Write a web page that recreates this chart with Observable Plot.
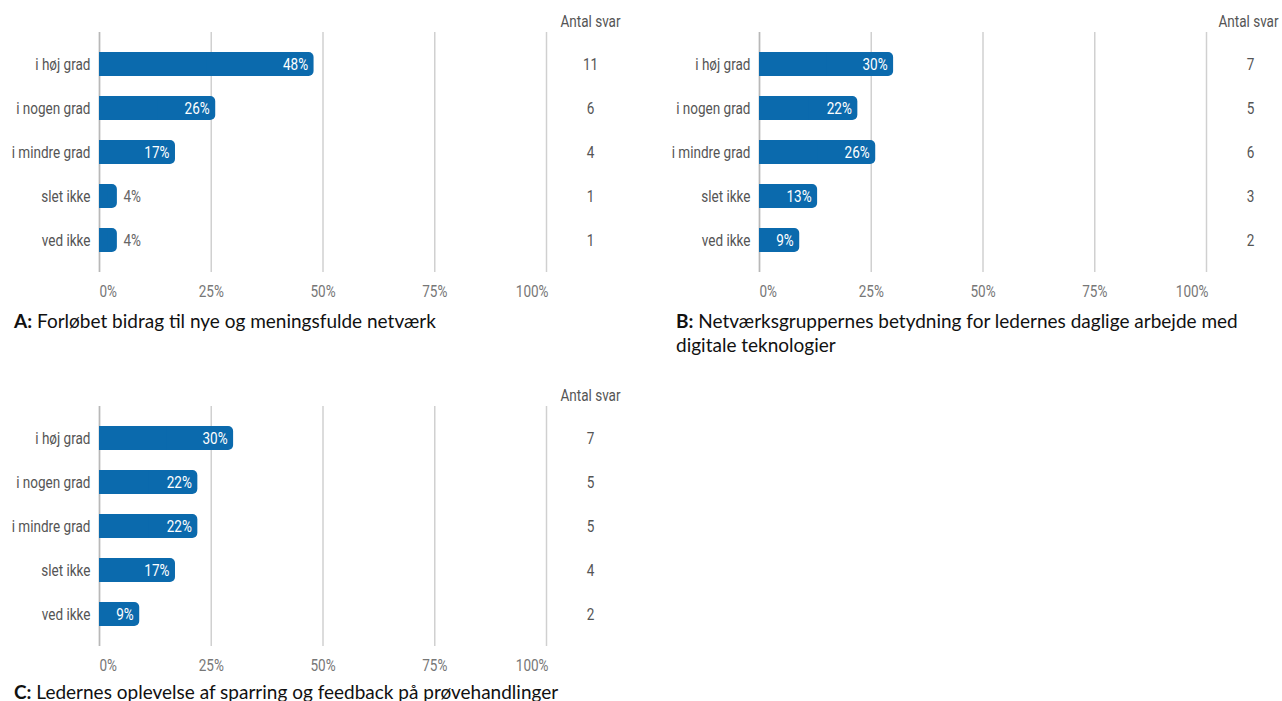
<!DOCTYPE html>
<html>
<head>
<meta charset="utf-8">
<script src="https://cdn.jsdelivr.net/npm/d3@7"></script>
<script src="https://cdn.jsdelivr.net/npm/@observablehq/plot@0.6"></script>
<style>
  html, body { margin: 0; padding: 0; background: #fff; }
  body { width: 1282px; height: 701px; position: relative; overflow: hidden; }
  .panel { position: absolute; }
  .cap { position: absolute; font-family: Lato, "Liberation Sans", sans-serif; font-size: 19px; color: #111; line-height: 24px; }
</style>
</head>
<body>
<div class="panel" id="pA" style="left:0;top:0"></div>
<div class="panel" id="pB" style="left:660px;top:0"></div>
<div class="panel" id="pC" style="left:0;top:374px"></div>
<div class="cap" style="left:14px;top:309px"><b>A:</b> Forløbet bidrag til nye og meningsfulde netværk</div>
<div class="cap" style="left:676px;top:309px;width:604px"><b>B:</b> Netværksgruppernes betydning for ledernes daglige arbejde med<br>digitale teknologier</div>
<div class="cap" style="left:14px;top:680px"><b>C:</b> Ledernes oplevelse af sparring og feedback på prøvehandlinger</div>
<script>
const categories = ["i høj grad", "i nogen grad", "i mindre grad", "slet ikke", "ved ikke"];
const shareA = [0.48, 0.26, 0.17, 0.04, 0.04];
const countA = [11, 6, 4, 1, 1];
const shareB = [0.30, 0.22, 0.26, 0.13, 0.09];
const countB = [7, 5, 6, 3, 2];
const shareC = [0.30, 0.22, 0.22, 0.17, 0.09];
const countC = [7, 5, 5, 4, 2];
const tickValues = [0, 0.25, 0.5, 0.75, 1];
const tickLabels = ["0%", "25%", "50%", "75%", "100%"];
const countHeader = "Antal svar";

const barColor = "#0b6aad";
const font = 'Roboto, sans-serif';
const fs = 16.5;

function panel(share, count, width, headerDx) {
  const rows = categories.map((c, i) => ({cat: c, share: share[i], count: count[i]}));
  const ticks = tickValues.map((v, i) => ({v, label: tickLabels[i]}));
  const pct = d => Math.round(d.share * 100) + "%";
  const inside = rows.filter(d => d.share >= 0.08);
  const outside = rows.filter(d => d.share < 0.08);
  const tickOpts = {x: "v", frameAnchor: "bottom", lineAnchor: "middle", text: "label", dy: 19, fill: "#777", fontSize: fs};
  return Plot.plot({
    width, height: 305,
    marginLeft: 99, marginRight: width - 99 - 447, marginTop: 32, marginBottom: 33,
    style: {fontFamily: font, fontSize: fs + "px", color: "#555", background: "transparent"},
    x: {domain: [0, 1], axis: null},
    y: {domain: categories, paddingInner: 0.458, paddingOuter: 0.43, label: null, tickSize: 0, tickPadding: 9},
    marks: [
      Plot.ruleX(tickValues, {stroke: "#d0d0d0", strokeWidth: 1.5}),
      Plot.ruleX([0], {stroke: "#b8b8b8", strokeWidth: 1.5}),
      Plot.barX(rows, {x: "share", y: "cat", fill: barColor, rx: 5}),
      Plot.barX(rows, {x1: 0, x2: d => d.share / 2, y: "cat", fill: barColor}),
      Plot.text(inside, {x: "share", y: "cat", text: pct, textAnchor: "end", dx: -6, fill: "white", fontSize: fs}),
      Plot.text(outside, {x: "share", y: "cat", text: pct, textAnchor: "start", dx: 6, fill: "#666", fontSize: fs}),
      Plot.text(rows, {frameAnchor: "right", textAnchor: "middle", y: "cat", text: d => String(d.count), dx: 44, fill: "#555", fontSize: fs}),
      Plot.text([countHeader], {frameAnchor: "top-right", textAnchor: "middle", lineAnchor: "middle", text: d => d, dx: headerDx, dy: -11, fill: "#555", fontSize: fs}),
      Plot.text(ticks.slice(0, 1), {...tickOpts, textAnchor: "start"}),
      Plot.text(ticks.slice(1, -1), {...tickOpts, textAnchor: "middle"}),
      Plot.text(ticks.slice(-1), {...tickOpts, textAnchor: "end", dx: 2})
    ]
  });
}

document.getElementById("pA").append(panel(shareA, countA, 640, 44));
document.getElementById("pB").append(panel(shareB, countB, 622, 42));
document.getElementById("pC").append(panel(shareC, countC, 640, 44));

// condense chart text to mimic the narrow typeface of the original
document.querySelectorAll(".panel svg text").forEach(t => {
  if (t.querySelector("tspan")) return;
  const len = t.getComputedTextLength();
  if (len > 0) {
    t.setAttribute("textLength", (len * 0.82).toFixed(2));
    t.setAttribute("lengthAdjust", "spacingAndGlyphs");
  }
});
</script>
</body>
</html>
